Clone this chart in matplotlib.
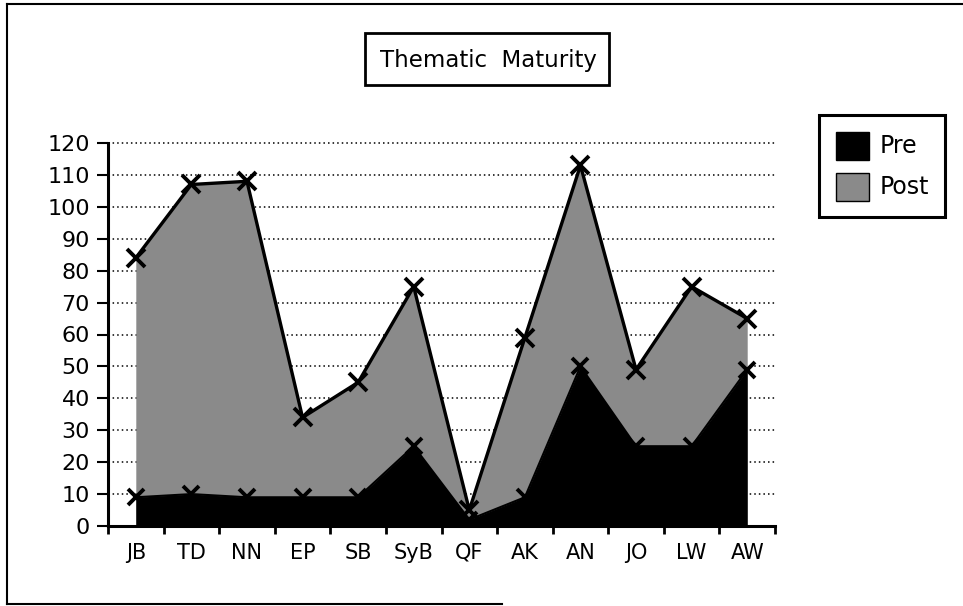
import matplotlib
matplotlib.use("Agg")
import matplotlib.pyplot as plt
from matplotlib.lines import Line2D
from matplotlib.patches import Patch, Rectangle
import numpy as np

categories = ["JB", "TD", "NN", "EP", "SB", "SyB", "QF", "AK", "AN", "JO", "LW", "AW"]
pre = [9, 10, 9, 9, 9, 25, 2, 9, 50, 25, 25, 49]
post = [84, 107, 108, 34, 45, 75, 5, 59, 113, 49, 75, 65]
yticks = list(range(0, 121, 10))

W, H = 963, 606
fig = plt.figure(figsize=(W / 100, H / 100), dpi=100)
plt.rcParams['font.family'] = ['DejaVu Sans']

def fx(px):
    return px / W

def fy(py):
    return 1 - py / H

ax = fig.add_axes([fx(108), fy(526), fx(775) - fx(108), fy(143) - fy(526)])
x = np.arange(len(categories))

post_gray = '#8a8a8a'
ax.fill_between(x, 0, post, color=post_gray, zorder=2, linewidth=0)
ax.fill_between(x, 0, pre, color='black', zorder=3, linewidth=0)
ax.plot(x, pre, color='black', lw=1.5, marker='x', ms=12, mew=2.8, zorder=4)
ax.plot(x, post, color='black', lw=2.4, marker='x', ms=13, mew=2.8, zorder=5)

ax.set_xlim(-0.5, len(categories) - 0.5)
ax.set_ylim(0, 120)
ax.set_yticks(yticks)
ax.set_yticklabels([str(v) for v in yticks], fontsize=16)
ax.set_xticks(x)
ax.set_xticklabels(categories, fontsize=15)
ax.set_xticks(np.arange(-0.5, len(categories) - 0.4, 1.0), minor=True)
ax.tick_params(axis='x', which='major', length=0, pad=12)
ax.tick_params(axis='x', which='minor', length=6, width=2, direction='out')
ax.tick_params(axis='y', which='major', length=8, width=1.5, direction='out', pad=5)

ax.yaxis.grid(True, linestyle=(0, (1, 2)), color='black', lw=1.1, zorder=0)
for gl in ax.yaxis.get_gridlines():
    gl.set_clip_on(False)
ax.set_axisbelow(True)
for s in ['top', 'right']:
    ax.spines[s].set_visible(False)
ax.spines['left'].set_linewidth(2.2)
ax.spines['bottom'].set_linewidth(2.2)
ax.spines['left'].set_zorder(6)
ax.spines['bottom'].set_zorder(6)

# Title box
fig.text(fx(488), fy(60), "Thematic  Maturity", ha='center', va='center', fontsize=16.5)
fig.patches.append(Rectangle((fx(365), fy(85)), fx(609) - fx(365), fy(33) - fy(85),
                             transform=fig.transFigure, fill=False, ec='black', lw=2))

# Legend
handles = [Patch(facecolor='black', edgecolor='black', label='Pre'),
           Patch(facecolor=post_gray, edgecolor='black', label='Post')]
leg = fig.legend(handles=handles, loc='upper left', bbox_to_anchor=(fx(819), fy(115)),
                 fontsize=17, frameon=True, fancybox=False, handlelength=1.4,
                 handleheight=1.45, handletextpad=0.45, borderpad=0.7, labelspacing=0.55,
                 borderaxespad=0)
leg.get_frame().set_edgecolor('black')
leg.get_frame().set_linewidth(2.2)
leg.get_frame().set_alpha(None)

# Outer frame
fig.add_artist(Line2D([fx(7), 1], [fy(4), fy(4)], color='black', lw=1.5))
fig.add_artist(Line2D([fx(7), fx(7)], [fy(4), fy(604)], color='black', lw=1.5))
fig.add_artist(Line2D([fx(7), fx(502)], [fy(604), fy(604)], color='black', lw=1.5))

fig.savefig('out.png', dpi=100)
